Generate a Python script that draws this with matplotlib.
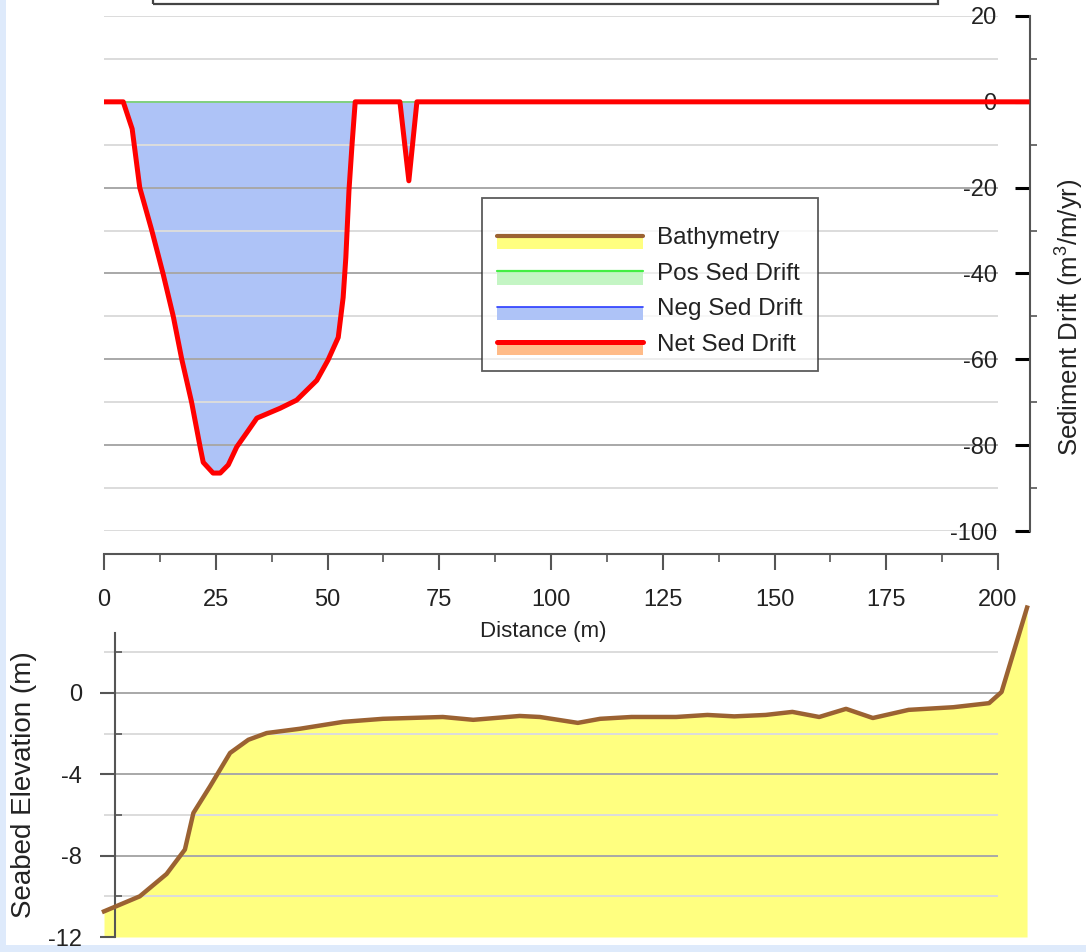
import numpy as np
import matplotlib.pyplot as plt
from matplotlib.patches import Rectangle
from matplotlib.lines import Line2D
from matplotlib.legend_handler import HandlerBase

plt.rcParams['font.family'] = ['Liberation Sans', 'DejaVu Sans']
plt.rcParams['mathtext.default'] = 'regular'
plt.rcParams['axes.unicode_minus'] = False

# ---- data ----
drift_dist = [0, 4.3, 6.3, 8.0, 10.7, 13.2, 15.5, 17.4, 19.6, 21.5, 22.2, 24.4, 26.0,
              27.8, 29.7, 32.0, 34.2, 39.4, 43.1, 47.6, 50.1, 52.4, 53.5, 54.1, 54.8,
              55.5, 56.2, 66.2, 68.2, 70.0, 206.5]
net_drift = [0, 0, -6.3, -20.0, -30.0, -40.0, -50.0, -60.0, -70.0, -80.4, -84.0, -86.5,
             -86.5, -84.6, -80.4, -77.0, -73.7, -71.4, -69.5, -64.9, -60.2, -54.9, -45.6,
             -36.3, -20.7, -9.8, 0, 0, -18.4, 0, 0]
neg_drift = net_drift
pos_dist = [0, 206.5]
pos_drift = [0, 0]

bathy_dist = [0, 8, 14, 18.1, 20, 23.7, 28.2, 32.3, 36.4, 43.8, 53.5, 62.4, 75.8, 82.6,
              93, 97.5, 106, 111, 118, 128, 135, 141, 148, 154, 160, 166, 172, 180, 190,
              198, 200.8, 206.5]
bathy_elev = [-10.74, -10.0, -8.9, -7.7, -5.9, -4.6, -2.95, -2.3, -1.97, -1.76, -1.42,
              -1.27, -1.18, -1.32, -1.13, -1.18, -1.47, -1.27, -1.18, -1.18, -1.08, -1.15,
              -1.08, -0.93, -1.18, -0.78, -1.23, -0.83, -0.7, -0.5, 0.05, 4.2]

drift_major = [-100, -80, -60, -40, -20, 0, 20]
drift_minor = [-90, -70, -50, -30, -10, 10]
dist_major = [0, 25, 50, 75, 100, 125, 150, 175, 200]
dist_minor = [12.5, 37.5, 62.5, 87.5, 112.5, 137.5, 162.5, 187.5]
elev_major = [-12, -8, -4, 0]
elev_minor = [-10, -6, -2, 2]

legend_labels = ['Bathymetry', 'Pos Sed Drift', 'Neg Sed Drift', 'Net Sed Drift']

c_bathy = '#9b6232'
c_yellow = '#ffff80'
c_net = '#ff0000'
c_pos = '#7ad87a'
c_neg = '#2a3cff'
c_negfill = '#aec3f7'
grid_dark = '#a8a8a8'
grid_light = '#dcdcdc'
txt = '#222222'
spine_c = '#555555'
fs = 17


class Swatch:
    def __init__(self, color, lw, fill):
        self.color = color
        self.lw = lw
        self.fill = fill


class SwatchHandler(HandlerBase):
    def create_artists(self, legend, h, xdescent, ydescent, width, height, fontsize, trans):
        y = height / 2 - ydescent
        rect = Rectangle((-xdescent, y - 9.5), width, 9.5, facecolor=h.fill,
                         edgecolor='none', transform=trans)
        line = Line2D([-xdescent, -xdescent + width], [y, y], color=h.color, lw=h.lw,
                      solid_capstyle='round', transform=trans)
        return [rect, line]


W, H = 1086, 952
fig = plt.figure(figsize=(W / 100, H / 100), dpi=100, facecolor='#deeafb')
fig.add_artist(Rectangle((6 / W, 7 / H), 1, 1, transform=fig.transFigure,
                         facecolor='white', edgecolor='none', zorder=-10))
fig.add_artist(Rectangle((153 / W, 1 - 4 / H), (938 - 153) / W, 0.05,
                         transform=fig.transFigure, fill=False, edgecolor='#444444', lw=1.6))

xmax = 926 / 4.47

# ---- top: sediment drift ----
ax1 = fig.add_axes([104 / W, 1 - 531 / H, 926 / W, 515 / H])
ax1.patch.set_alpha(0)
ax1.set_xlim(0, xmax)
ax1.set_ylim(-100, 20)

for v in drift_major[1:-1]:
    ax1.hlines(v, 0, 200, color=grid_dark, lw=1.4, zorder=1.5)
for v in drift_minor + [drift_major[0], drift_major[-1]]:
    ax1.hlines(v, 0, 200, color=grid_light, lw=1.4, zorder=1.5)

ax1.fill_between(drift_dist, neg_drift, 0, where=np.array(neg_drift) <= 0,
                 color=c_negfill, lw=0, zorder=1)
ax1.plot(pos_dist, pos_drift, color=c_pos, lw=1.2, zorder=2)
ax1.plot(drift_dist, neg_drift, color=c_neg, lw=1.0, zorder=2)
ax1.plot(drift_dist, net_drift, color=c_net, lw=3.6, zorder=3, solid_joinstyle='round')

for s in ['left', 'top']:
    ax1.spines[s].set_visible(False)
ax1.spines['right'].set_bounds(-100, 20)
ax1.spines['right'].set_color(spine_c)
ax1.spines['right'].set_linewidth(1.5)
ax1.spines['bottom'].set_bounds(0, 200)
ax1.spines['bottom'].set_position(('outward', 16.5))
ax1.spines['bottom'].set_color(spine_c)
ax1.spines['bottom'].set_linewidth(1.5)

ax1.yaxis.tick_right()
ax1.set_yticks(drift_major)
ax1.set_yticks(drift_minor, minor=True)
ax1.tick_params(axis='y', which='major', direction='in', length=10.8, width=2.2,
                color='black', labelsize=fs, labelcolor=txt, pad=-24)
ax1.tick_params(axis='y', which='minor', direction='out', length=5, width=1.2,
                color=spine_c)
for lbl in ax1.get_yticklabels():
    lbl.set_horizontalalignment('right')

ax1.set_xticks(dist_major)
ax1.set_xticks(dist_minor, minor=True)
ax1.tick_params(axis='x', which='major', direction='out', length=11.5, width=1.5,
                color=spine_c, labelsize=fs, labelcolor=txt, pad=14)
ax1.tick_params(axis='x', which='minor', direction='out', length=6, width=1.2,
                color=spine_c)
ax1.set_xlabel('Distance (m)', fontsize=16, color=txt)
ax1.xaxis.set_label_coords(0.474, -0.175)

ax1.yaxis.set_label_position('right')
ax1.set_ylabel('Sediment Drift (m$^{3}$/m/yr)', fontsize=18.5, color=txt)
ax1.yaxis.set_label_coords(1.026, 0.4155)

handles = [Swatch(c_bathy, 3.0, c_yellow), Swatch('#44ee44', 1.6, '#c4f5c4'),
           Swatch(c_neg, 1.2, c_negfill), Swatch(c_net, 3.6, '#ffbb88')]
leg = ax1.legend(handles, legend_labels, handler_map={Swatch: SwatchHandler()},
                 loc='upper left', bbox_to_anchor=(0.408, 0.6466), borderaxespad=0,
                 fontsize=17.5, frameon=True, fancybox=False, handlelength=6.0,
                 handletextpad=0.6, borderpad=0.62, labelspacing=0.55,
                 title=' ', title_fontsize=1)
leg.get_frame().set_edgecolor('#333333')
leg.get_frame().set_linewidth(1.3)
for t in leg.get_texts():
    t.set_color(txt)

# ---- bottom: seabed elevation ----
ax2 = fig.add_axes([104 / W, 1 - 937 / H, 926 / W, 304 / H])
ax2.patch.set_alpha(0)
ax2.set_xlim(0, xmax)
ax2.set_ylim(-12, 2.95)

for v in [0, -4, -8]:
    ax2.hlines(v, 0, 200, color=grid_dark, lw=1.4, zorder=1.5)
for v in elev_minor:
    ax2.hlines(v, 0, 200, color=grid_light, lw=1.4, zorder=1.5)

ax2.fill_between(bathy_dist, bathy_elev, -12, color=c_yellow, lw=0, zorder=1,
                 clip_on=False)
ax2.plot(bathy_dist, bathy_elev, color=c_bathy, lw=3.2, zorder=3, clip_on=False)

for s in ['right', 'top', 'bottom']:
    ax2.spines[s].set_visible(False)
ax2.spines['left'].set_position(('outward', -8))
ax2.spines['left'].set_color(spine_c)
ax2.spines['left'].set_linewidth(1.5)
ax2.set_xticks([])
ax2.set_yticks(elev_major)
ax2.set_yticks(elev_minor, minor=True)
ax2.tick_params(axis='y', which='major', direction='out', length=10.8, width=1.5,
                color=spine_c, labelsize=fs, labelcolor=txt, pad=13)
ax2.tick_params(axis='y', which='minor', direction='in', length=5, width=1.2,
                color=spine_c)
ax2.set_ylabel('Seabed Elevation (m)', fontsize=20, color=txt)
ax2.yaxis.set_label_coords(-0.072, 0.5)

fig.savefig('out.png', dpi=100, facecolor=fig.get_facecolor())
